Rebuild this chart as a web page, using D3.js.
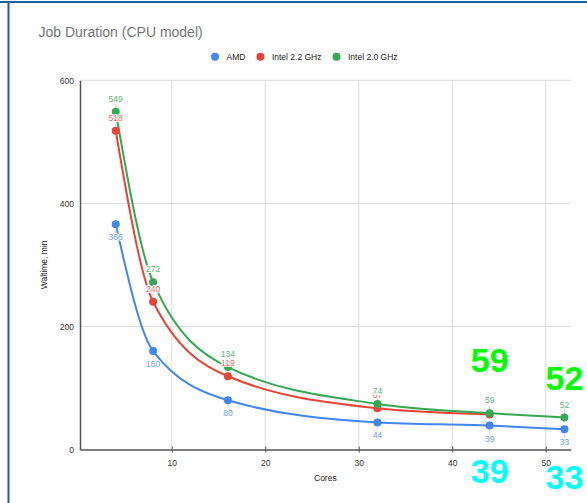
<!DOCTYPE html>
<html>
<head>
<meta charset="utf-8">
<script src="https://cdn.jsdelivr.net/npm/d3@7"></script>
<style>
  body { margin: 0; background: #fff; }
  svg text { font-family: Arial, "Liberation Sans", sans-serif; }
</style>
</head>
<body>
<svg id="chart" width="587" height="503"></svg>
<script>
// data
const cores = [4, 8, 16, 32, 44, 52];
const amd = [366, 160, 80, 44, 39, 33];
const intel22 = [518, 240, 119, 67, 57, null];
const intel20 = [549, 272, 134, 74, 59, 52];
const seriesNames = ['AMD', 'Intel 2.2 GHz', 'Intel 2.0 GHz'];
const xTicks = [10, 20, 30, 40, 50];
const yTicks = [0, 200, 400, 600];
// big highlighted numbers: [series index, point index]
const callouts = [[2, 4], [2, 5], [0, 4], [0, 5]];

const colors = ['#4285f4', '#ea4335', '#34a853'];
const labelColors = ['#6d9ef5', '#ee6b5f', '#5cb574'];
const calloutColors = ['#00ffff', '#ea4335', '#00ff00'];
const calloutDy = [-41, -28, 57, 60];

const series = [amd, intel22, intel20].map((vals, i) => ({
  name: seriesNames[i],
  i: i,
  points: cores.map((c, j) => ({ x: c, y: vals[j] })).filter(d => d.y != null)
}));

const svg = d3.select('#chart');

// frame
svg.append('rect').attr('x', 0).attr('y', 1).attr('width', 587).attr('height', 2).attr('fill', '#1d5d9e');
svg.append('rect').attr('x', 7.5).attr('y', 1).attr('width', 2).attr('height', 502).attr('fill', '#1d5d9e');

const x = d3.scaleLinear().domain([0.18, 52.67]).range([80, 570.7]);
const y = d3.scaleLinear().domain([0, 600]).range([449.5, 80.3]);

// title
svg.append('text')
  .attr('x', 38.5).attr('y', 37)
  .attr('font-size', 14).attr('fill', '#757575')
  .text('Job Duration (CPU model)');

// legend
let lx = 215;
seriesNames.forEach((name, i) => {
  svg.append('circle').attr('cx', lx).attr('cy', 56.7).attr('r', 4).attr('fill', colors[i]);
  const t = svg.append('text')
    .attr('x', lx + 11.5).attr('y', 59.7)
    .attr('font-size', 8.5).attr('fill', '#222')
    .text(name);
  lx += 11.5 + t.node().getComputedTextLength() + 15;
});

// grid
svg.append('g').selectAll('line')
  .data(xTicks)
  .join('line')
  .attr('x1', d => x(d)).attr('x2', d => x(d))
  .attr('y1', y(600)).attr('y2', y(0))
  .attr('stroke', '#dcdcdc').attr('stroke-width', 1);

svg.append('g').selectAll('line')
  .data(yTicks.filter(d => d > 0))
  .join('line')
  .attr('x1', x.range()[0]).attr('x2', x.range()[1])
  .attr('y1', d => y(d)).attr('y2', d => y(d))
  .attr('stroke', '#dcdcdc').attr('stroke-width', 1);

// axes
const xAxis = svg.append('g')
  .attr('transform', `translate(0, ${y(0)})`)
  .call(d3.axisBottom(x).tickValues(xTicks).tickFormat(d3.format('d')).tickSizeInner(3).tickSizeOuter(0).tickPadding(7));
xAxis.select('.domain').attr('stroke', '#555').attr('stroke-width', 1.5);
xAxis.selectAll('.tick line').attr('y1', -3).attr('stroke', '#555');
xAxis.selectAll('.tick text').attr('font-size', 8.5).attr('fill', '#333').attr('font-family', null);

const yAxis = svg.append('g')
  .attr('transform', `translate(${x.range()[0]}, 0)`)
  .call(d3.axisLeft(y).tickValues(yTicks).tickSize(0).tickPadding(6));
yAxis.select('.domain').attr('stroke', '#555').attr('stroke-width', 1.5);
yAxis.selectAll('.tick text').attr('font-size', 8.5).attr('fill', '#333').attr('font-family', null);

svg.append('text')
  .attr('x', (x.range()[0] + x.range()[1]) / 2).attr('y', 481)
  .attr('text-anchor', 'middle').attr('font-size', 8.5).attr('fill', '#222')
  .text('Cores');

svg.append('text')
  .attr('transform', `translate(47, ${(y(0) + y(600)) / 2}) rotate(-90)`)
  .attr('text-anchor', 'middle').attr('font-size', 8.5).attr('fill', '#222')
  .text('Waltime, min');

// lines
const line = d3.line().x(d => x(d.x)).y(d => y(d.y)).curve(d3.curveMonotoneX);

svg.append('g').selectAll('path')
  .data(series)
  .join('path')
  .attr('d', d => line(d.points))
  .attr('fill', 'none')
  .attr('stroke', d => colors[d.i])
  .attr('stroke-width', 2);

// stems, dots and value labels
const dir = s => (s.i === 0 ? 1 : -1);

series.forEach(s => {
  const g = svg.append('g');
  g.selectAll('line')
    .data(s.points)
    .join('line')
    .attr('x1', d => x(d.x)).attr('x2', d => x(d.x))
    .attr('y1', d => y(d.y) + dir(s) * 4).attr('y2', d => y(d.y) + dir(s) * 8)
    .attr('stroke', '#d8d8d8');
  g.selectAll('circle')
    .data(s.points)
    .join('circle')
    .attr('cx', d => x(d.x)).attr('cy', d => y(d.y))
    .attr('r', 4)
    .attr('fill', colors[s.i]);
});

series.forEach(s => {
  svg.append('g').selectAll('text')
    .data(s.points)
    .join('text')
    .attr('x', d => x(d.x))
    .attr('y', d => y(d.y) + dir(s) * 13 + 3)
    .attr('text-anchor', 'middle')
    .attr('font-size', 8.5)
    .attr('fill', labelColors[s.i])
    .attr('stroke', '#fff').attr('stroke-width', 2).attr('paint-order', 'stroke')
    .text(d => d.y);
});

// highlighted numbers
svg.append('g').selectAll('text')
  .data(callouts)
  .join('text')
  .attr('x', d => x(series[d[0]].points[d[1]].x))
  .attr('y', (d, k) => y(series[d[0]].points[d[1]].y) + calloutDy[k])
  .attr('text-anchor', 'middle')
  .attr('font-size', 34)
  .attr('font-weight', 'bold')
  .attr('fill', d => calloutColors[d[0]])
  .text(d => series[d[0]].points[d[1]].y);
</script>
</body>
</html>
